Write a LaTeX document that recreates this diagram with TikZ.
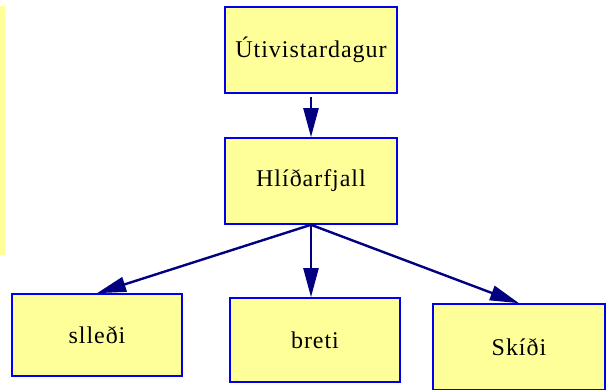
\documentclass[tikz,border=0pt]{standalone}
\usepackage{fontspec}
\setmainfont{Liberation Serif}[LetterSpace=4]
\usetikzlibrary{arrows.meta}
\definecolor{boxfill}{HTML}{FFFF99}
\definecolor{boxline}{HTML}{0000EE}
\definecolor{arrline}{HTML}{000080}
\begin{document}
\begin{tikzpicture}[x=1pt, y=-1pt,
    item/.style={draw=boxline, line width=1.6pt, fill=boxfill, rectangle,
      font=\fontsize{24}{26}\selectfont},
    link/.style={draw=arrline, line width=2.4pt, -{Triangle[length=29pt,width=15pt]}}]
      \useasboundingbox (0, 0) rectangle (610, 390);
      \fill [boxfill] (0, 6) rectangle (5, 255);
      \node [item, minimum width=172pt, minimum height=86pt] (utiv) at (311, 50) {Útivistardagur};
      \node [item, minimum width=172pt, minimum height=86pt] (hlid) at (311, 181) {Hlíðarfjall};
      \node [item, minimum width=170pt, minimum height=82pt] (sled) at (97, 335) {slleði};
      \node [item, minimum width=170pt, minimum height=84pt] (bret) at (315, 340) {breti};
      \node [item, minimum width=172pt, minimum height=86pt] (skid) at (519, 347) {Skíði};
      \draw [link, shorten <=3pt] (utiv.south) -- (hlid.north);
      \draw [link] (hlid.south) -- (sled.north);
      \draw [link] (hlid.south) -- (bret.north -| hlid.south);
      \draw [link] (hlid.south) -- (skid.north);
    \end{tikzpicture}
\end{document}
